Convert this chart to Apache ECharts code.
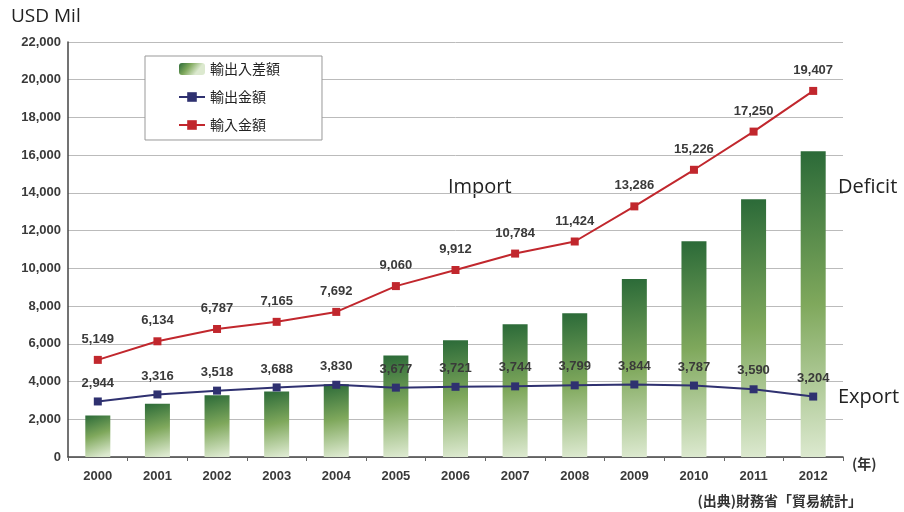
<!DOCTYPE html>
<html><head><meta charset="utf-8">
<script src="https://cdn.jsdelivr.net/npm/echarts@6/dist/echarts.min.js"></script>
<style>html,body{margin:0;padding:0;background:#fff}#c{width:904px;height:512px}</style>
</head><body><div id="c"></div>
<script>
const years = ['2000','2001','2002','2003','2004','2005','2006','2007','2008','2009','2010','2011','2012'];
const deficit = [2205, 2818, 3269, 3477, 3862, 5383, 6191, 7040, 7625, 9442, 11439, 13660, 16203];
const exportVals = [2944, 3316, 3518, 3688, 3830, 3677, 3721, 3744, 3799, 3844, 3787, 3590, 3204];
const importVals = [5149, 6134, 6787, 7165, 7692, 9060, 9912, 10784, 11424, 13286, 15226, 17250, 19407];
const seriesNames = ['輸出入差額', '輸出金額', '輸入金額'];

const chart = echarts.init(document.getElementById('c'));
const fmt = v => v.toLocaleString('en-US');
const lblFont = {fontFamily: 'Liberation Sans, Arial', fontWeight: 'bold', fontSize: 13, color: '#3a3a3a'};
const barGrad = new echarts.graphic.LinearGradient(0, 0, 0.6, 1, [
  {offset: 0, color: '#2b6a38'},
  {offset: 0.5, color: '#7fa85c'},
  {offset: 1, color: '#dce9cf'}
]);
chart.setOption({
  animation: false,
  grid: {left: 68, right: 61, top: 42, bottom: 55},
  title: {text: 'USD Mil', left: 6, top: 2, textStyle: {fontFamily: 'Open Sans', fontWeight: 'normal', fontSize: 19, color: '#222'}},
  legend: {
    orient: 'vertical', left: 145, top: 56,
    data: seriesNames,
    backgroundColor: '#fff', borderColor: '#999', borderWidth: 1,
    padding: [6, 42, 8, 33], itemGap: 14, itemWidth: 26, itemHeight: 12,
    textStyle: {fontFamily: 'Noto Sans CJK JP', fontSize: 14, color: '#222'}
  },
  xAxis: {
    type: 'category', data: years, boundaryGap: true,
    axisLine: {lineStyle: {color: '#444', width: 1.5}},
    axisTick: {show: true, alignWithLabel: false, length: 4, lineStyle: {color: '#666'}},
    axisLabel: Object.assign({margin: 13}, lblFont)
  },
  yAxis: {
    type: 'value', min: 0, max: 22000, interval: 2000,
    axisLine: {show: true, lineStyle: {color: '#444', width: 1.5}},
    axisTick: {show: false},
    splitLine: {lineStyle: {color: '#bbb'}},
    axisLabel: Object.assign({formatter: fmt, margin: 7}, lblFont)
  },
  series: [
    {name: seriesNames[0], type: 'bar', data: deficit, barWidth: 25, itemStyle: {color: barGrad}, z: 1},
    {name: seriesNames[1], type: 'line', data: exportVals, symbol: 'rect', symbolSize: 8,
      lineStyle: {color: '#2f3170', width: 2}, itemStyle: {color: '#2f3170'}, z: 3,
      label: Object.assign({show: true, position: 'top', distance: 8, formatter: p => fmt(p.value)}, lblFont)},
    {name: seriesNames[2], type: 'line', data: importVals, symbol: 'rect', symbolSize: 8,
      lineStyle: {color: '#c1272d', width: 2}, itemStyle: {color: '#c1272d'}, z: 3,
      label: Object.assign({show: true, position: 'top', distance: 10, formatter: p => fmt(p.value)}, lblFont)}
  ],
  graphic: [
    {type: 'text', left: 448, top: 177, style: {text: 'Import', font: '20px "Open Sans"', fill: '#222'}},
    {type: 'text', left: 838, top: 177, style: {text: 'Deficit', font: '20px "Open Sans"', fill: '#222'}},
    {type: 'text', left: 838, top: 387, style: {text: 'Export', font: '20px "Open Sans"', fill: '#222'}},
    {type: 'text', left: 852, top: 457, style: {text: '(年)', font: 'bold 14px "Noto Sans CJK JP"', fill: '#333'}},
    {type: 'text', right: 42, top: 494, style: {text: '(出典)財務省「貿易統計」', font: 'bold 14px "Noto Sans CJK JP"', fill: '#333'}}
  ]
});
</script></body></html>
